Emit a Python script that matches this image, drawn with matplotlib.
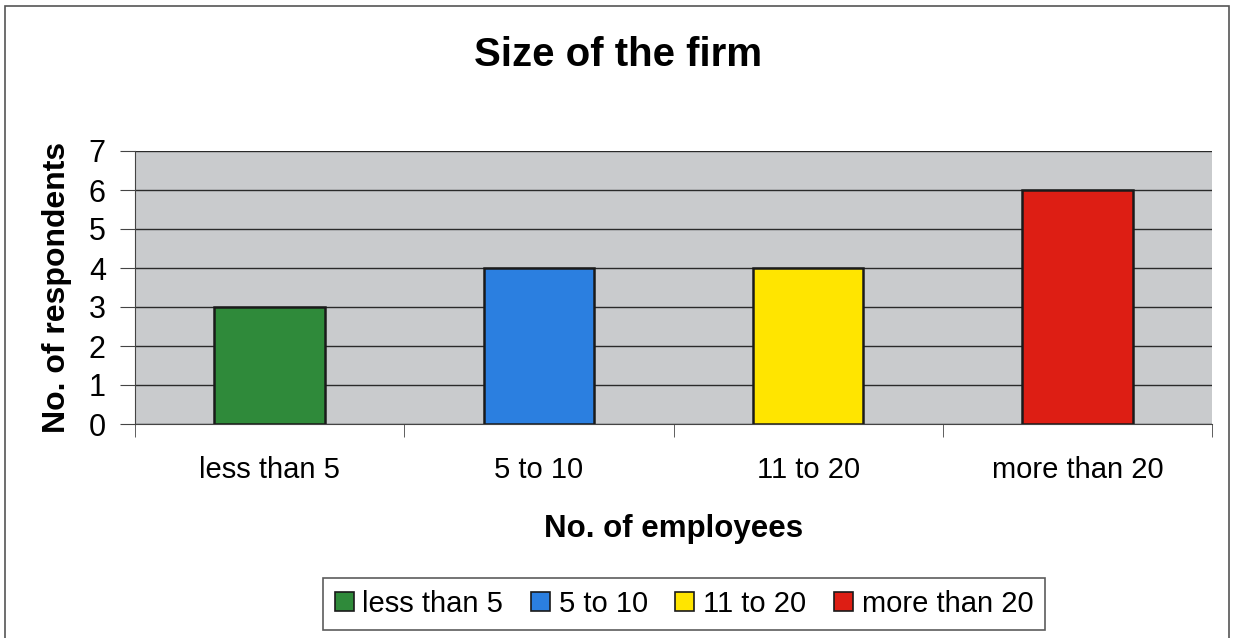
import matplotlib
matplotlib.use("Agg")
import matplotlib.pyplot as plt
from matplotlib.patches import Rectangle, Patch

categories = ["less than 5", "5 to 10", "11 to 20", "more than 20"]
values = [3, 4, 4, 6]
colors = ["#2f8a3a", "#2b7fe0", "#ffe500", "#dd1e14"]
yticks = [0, 1, 2, 3, 4, 5, 6, 7]

plt.rcParams['font.family'] = ['Liberation Sans', 'DejaVu Sans']

fig = plt.figure(figsize=(12.38, 6.38), dpi=100)
fig.patch.set_facecolor("white")
W, H = 1238, 638
ax = fig.add_axes([135 / W, 1 - 424 / H, (1212 - 135) / W, (424 - 151) / H])
ax.set_facecolor("#c9cbcd")

x = list(range(len(categories)))
ax.bar(x, values, width=0.41, color=colors, edgecolor="#1a1a1a", linewidth=1.8, zorder=3)
ax.set_xlim(-0.5, len(categories) - 0.5)
ax.set_ylim(0, 7)
ax.set_yticks(yticks)
ax.set_yticklabels([str(t) for t in yticks], fontsize=22)
ax.yaxis.grid(True, color="#2a2a2a", linewidth=1.0, zorder=1)
ax.set_axisbelow(True)

ax.set_xticks(x)
ax.set_xticklabels(categories, fontsize=21)
ax.tick_params(axis='x', length=0, pad=23)
ax.set_xticks([i - 0.5 for i in range(len(categories) + 1)], minor=True)
ax.tick_params(axis='x', which='minor', length=9, direction='out', color="#444444")
ax.tick_params(axis='y', length=11, direction='out', color="#444444", pad=10)

for s in ["top", "right"]:
    ax.spines[s].set_visible(False)
ax.spines["left"].set_color("#444444")
ax.spines["bottom"].set_color("#444444")

ax.set_xlabel("No. of employees", fontsize=22.5, fontweight="bold", labelpad=22)
ax.set_ylabel("No. of respondents", fontsize=23, fontweight="bold", labelpad=12)

fig.text(618 / W, 1 - 55 / H, "Size of the firm", ha="center", va="center",
         fontsize=29, fontweight="bold")

# chart area border
fig.patches.append(Rectangle((5 / W, -0.02), (1229 - 5) / W, 1 - 6 / H + 0.02,
                             transform=fig.transFigure, fill=False,
                             edgecolor="#555555", linewidth=1.2))

handles = [Patch(facecolor=c, edgecolor="#1a1a1a", linewidth=1.2) for c in colors]
leg = fig.legend(handles, categories, loc="center", bbox_to_anchor=(684 / W, 1 - 604 / H),
                 ncol=4, fontsize=21, frameon=True, fancybox=False, handlelength=0.65,
                 handleheight=0.65, handletextpad=0.3, columnspacing=0.95,
                 borderpad=0.4)
leg.get_frame().set_edgecolor("#333333")
leg.get_frame().set_linewidth(1.2)

fig.savefig("out.png", dpi=100)
